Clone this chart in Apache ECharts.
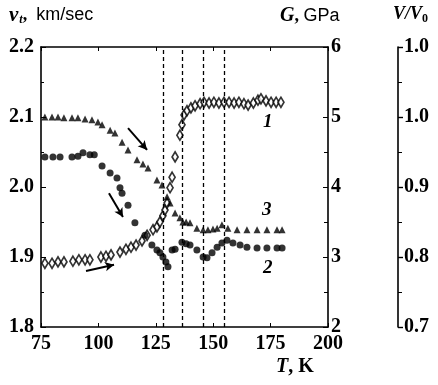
<!DOCTYPE html>
<html><head><meta charset="utf-8">
<script src="https://cdn.jsdelivr.net/npm/echarts@6/dist/echarts.min.js"></script>
<style>html,body{margin:0;padding:0;background:#fff}#c{width:438px;height:385px}</style>
</head><body><div id="c"></div>
<script>
// Curve 1: shear modulus G (GPa), open diamonds, right axis
var T1 = [76.7,79.8,82.4,85.0,88.9,91.5,94.2,96.3,101.1,103.3,105.5,109.4,112.0,114.2,116.4,119.0,121.2,123.8,125.5,126.8,128.1,129.0,129.9,131.2,132.1,133.4,135.5,136.4,137.3,138.6,140.3,142.1,144.3,146.0,148.2,150.3,152.5,154.7,156.9,159.1,161.2,163.4,165.2,167.5,169.5,170.8,173.0,175.2,177.4,179.5];
var G1 = [2.91,2.91,2.93,2.93,2.94,2.96,2.96,2.96,3.00,3.01,3.03,3.07,3.11,3.14,3.17,3.23,3.31,3.39,3.43,3.50,3.59,3.67,3.77,3.99,4.14,4.43,4.74,4.89,5.03,5.09,5.13,5.16,5.19,5.21,5.20,5.21,5.20,5.21,5.21,5.20,5.21,5.19,5.17,5.20,5.24,5.26,5.23,5.21,5.21,5.21];
// Curve 2: v_t (km/sec), filled circles, left axis
var T2 = [76.7,80.2,83.3,88.5,91.1,93.3,96.3,98.2,101.6,105.1,108.1,109.4,110.3,112.9,115.9,120.3,123.3,125.5,126.8,128.1,129.4,130.3,132.1,133.4,136.4,138.2,139.9,142.9,145.6,147.3,149.5,151.7,153.8,156.0,158.6,161.7,164.7,169.1,173.4,177.8,180.0];
var V2 = [2.043,2.043,2.043,2.043,2.044,2.049,2.046,2.046,2.030,2.020,2.013,1.999,1.991,1.974,1.949,1.931,1.917,1.910,1.906,1.900,1.893,1.886,1.910,1.911,1.921,1.919,1.917,1.910,1.900,1.899,1.906,1.914,1.920,1.924,1.920,1.917,1.914,1.913,1.913,1.913,1.913];
// Curve 3: v_t (km/sec), filled triangles, left axis
var T3 = [76.7,79.8,82.4,85.0,88.5,91.1,94.2,97.2,99.8,101.6,105.1,107.2,110.3,112.9,116.8,119.4,121.6,125.5,127.7,129.9,131.2,133.4,135.5,136.8,138.2,139.9,142.9,145.6,147.7,149.9,151.7,153.8,156.4,160.4,164.7,169.1,173.4,177.8,180.0];
var V3 = [2.100,2.100,2.100,2.099,2.099,2.099,2.097,2.096,2.093,2.089,2.081,2.077,2.064,2.053,2.039,2.033,2.027,2.010,2.003,1.986,1.977,1.963,1.956,1.950,1.950,1.949,1.941,1.939,1.939,1.940,1.941,1.946,1.941,1.939,1.939,1.939,1.939,1.939,1.939];
// Transition temperatures (dashed verticals)
var transitionsT = [128.1, 136.5, 145.8, 154.6];
// Arrows [T1, v1, T2, v2]
var arrows = [[112.9,2.084,121.2,2.053],[104.6,1.991,110.7,1.957],[94.6,1.880,106.8,1.889]];
// Tick labels
var xTicks = [75,100,125,150,175,200];
var vTickLabels = ['1.8','1.9','2.0','2.1','2.2'];
var gTickLabels = ['2','3','4','5','6'];
var volTickLabels = ['0.7','0.8','0.9','1.0','1.0'];

function zip(a,b){return a.map(function(x,i){return [x,b[i]];});}
var serif = 'Liberation Serif';
var lblStyle = {fontFamily: serif, fontWeight: 'bold', fontSize: 20, color: '#000'};
var chart = echarts.init(document.getElementById('c'), null, {renderer:'canvas'});
var axLine = {show:true, lineStyle:{color:'#000', width:1.6}};
chart.setOption({
  animation:false,
  backgroundColor:'#fff',
  grid:{left:41, right:110, top:47, bottom:58},
  xAxis:[{
    type:'value', min:75, max:200, interval:25, position:'bottom',
    axisLine:axLine, splitLine:{show:false},
    axisTick:{inside:true, length:4, lineStyle:{color:'#000'}},
    axisLabel:Object.assign({margin:7, formatter:function(v){return xTicks.indexOf(v)>=0?String(v):'';}}, lblStyle)
  },{
    type:'value', min:75, max:200, interval:25, position:'top',
    axisLine:axLine, splitLine:{show:false},
    axisTick:{inside:true, length:4, lineStyle:{color:'#000'}},
    axisLabel:{show:false}
  }],
  yAxis:[{
    type:'value', min:1.8, max:2.2, interval:0.1, position:'left',
    axisLine:axLine, splitLine:{show:false},
    axisTick:{inside:true, length:5, lineStyle:{color:'#000'}},
    minorTick:{show:true, splitNumber:2, length:3, lineStyle:{color:'#000'}},
    axisLabel:Object.assign({margin:7, formatter:function(v){return vTickLabels[Math.round((v-1.8)*10)];}}, lblStyle)
  },{
    type:'value', min:2, max:6, interval:1, position:'right',
    axisLine:axLine, splitLine:{show:false},
    axisTick:{inside:true, length:5, lineStyle:{color:'#000'}},
    minorTick:{show:true, splitNumber:2, length:4, lineStyle:{color:'#000'}},
    axisLabel:Object.assign({margin:3, formatter:function(v){return gTickLabels[Math.round(v-2)];}}, lblStyle)
  },{
    type:'value', min:0.7, max:1.1, interval:0.1, position:'right', offset:70,
    axisLine:axLine, splitLine:{show:false},
    axisTick:{show:true, inside:false, length:5, lineStyle:{color:'#000', width:1.4}},
    minorTick:{show:true, splitNumber:2, length:4, lineStyle:{color:'#000'}},
    axisLabel:Object.assign({margin:6, formatter:function(v){return volTickLabels[Math.round((v-0.7)*10)];}}, lblStyle)
  }],
  series:[{
    type:'scatter', name:'1', yAxisIndex:1, data:zip(T1,G1),
    symbol:'diamond', symbolSize:[6,10],
    itemStyle:{color:'#fff', borderColor:'#000', borderWidth:1.8}
  },{
    type:'scatter', name:'2', yAxisIndex:0, data:zip(T2,V2),
    symbol:'circle', symbolSize:7, itemStyle:{color:'#000'}
  },{
    type:'scatter', name:'3', yAxisIndex:0, data:zip(T3,V3),
    symbol:'triangle', symbolSize:7, itemStyle:{color:'#000'},
    markLine:{
      silent:true, symbol:['none','none'], label:{show:false},
      lineStyle:{color:'#000', type:[4,3], width:1.3},
      data: transitionsT.map(function(t){return {xAxis:t};})
    }
  },{
    type:'line', yAxisIndex:0, data:[], silent:true,
    markLine:{
      silent:true, symbol:['none','arrow'], symbolSize:[7,9], label:{show:false},
      lineStyle:{color:'#000', type:'solid', width:2},
      data: arrows.map(function(a){return [{coord:[a[0],a[1]]},{coord:[a[2],a[3]]}];})
    }
  }],
  graphic:[
    {type:'text', left:9, top:5, style:{text:'{v|v}{s|t}{p|,  }{u|km/sec}', rich:{
      v:{fontFamily:serif, fontStyle:'italic', fontWeight:'bold', fontSize:21, fill:'#000'},
      s:{fontFamily:serif, fontStyle:'italic', fontWeight:'bold', fontSize:12, fill:'#000', padding:[9,0,0,1]},
      p:{fontFamily:serif, fontWeight:'bold', fontSize:18, fill:'#000'},
      u:{fontFamily:'Liberation Sans', fontSize:18, fill:'#000'}}}},
    {type:'text', left:280, top:6, style:{text:'{g|G}{p|, }{u|GPa}', rich:{
      g:{fontFamily:serif, fontStyle:'italic', fontWeight:'bold', fontSize:20, fill:'#000'},
      p:{fontFamily:serif, fontWeight:'bold', fontSize:18, fill:'#000'},
      u:{fontFamily:'Liberation Sans', fontSize:18, fill:'#000'}}}},
    {type:'text', left:393, top:5, style:{text:'{g|V/V}{s|0}', rich:{
      g:{fontFamily:serif, fontStyle:'italic', fontWeight:'bold', fontSize:18, fill:'#000'},
      s:{fontFamily:serif, fontWeight:'bold', fontSize:12, fill:'#000', padding:[9,0,0,0]}}}},
    {type:'text', left:276, top:357, style:{text:'{g|T}{p|, K}', rich:{
      g:{fontFamily:serif, fontStyle:'italic', fontWeight:'bold', fontSize:20, fill:'#000'},
      p:{fontFamily:serif, fontWeight:'bold', fontSize:20, fill:'#000'}}}},
    {type:'text', left:263, top:113, style:{text:'1', font:'italic bold 19px "Liberation Serif"', fill:'#000'}},
    {type:'text', left:262, top:201, style:{text:'3', font:'italic bold 19px "Liberation Serif"', fill:'#000'}},
    {type:'text', left:263, top:259, style:{text:'2', font:'italic bold 19px "Liberation Serif"', fill:'#000'}}
  ]
});
</script></body></html>
